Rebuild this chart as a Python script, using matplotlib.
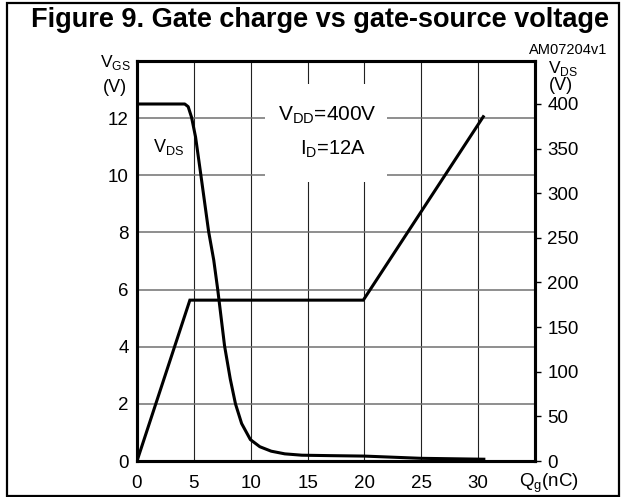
import matplotlib
matplotlib.use("Agg")
import matplotlib.pyplot as plt
import matplotlib.transforms as mtransforms
from matplotlib.patches import Rectangle

plt.rcParams['font.family'] = ['Liberation Sans', 'DejaVu Sans']

# gate charge (nC) vs VGS (V), left axis
qg_vgs = [0, 4.65, 19.9, 30.45]
vgs = [0, 5.63, 5.63, 12.05]

# gate charge (nC) vs VDS (V), right axis
qg_vds = [0, 4.2, 4.5, 4.8, 5.15, 5.6, 6.3, 6.75, 7.1, 7.7, 8.2, 8.66,
          9.2, 9.97, 10.8, 11.8, 13, 14.5, 17, 20, 25, 30.5]
vds = [400, 400, 397, 385, 363, 322, 257, 225, 192, 129, 92, 64,
       42, 24, 16, 11, 8, 6.5, 6, 5.5, 3, 2]

x_ticks = [0, 5, 10, 15, 20, 25, 30]
vgs_ticks = [0, 2, 4, 6, 8, 10, 12]
vds_ticks = [0, 50, 100, 150, 200, 250, 300, 350, 400]

W, H = 624, 497
fig = plt.figure(figsize=(W / 100, H / 100), dpi=100)

def fx(px):
    return px / W

def fy(py):
    return 1 - py / H

# outer frame
fig.patches.append(Rectangle((fx(7), fy(496)), fx(612), 493 / H, transform=fig.transFigure,
                             fill=False, lw=1.6, ec='black'))

fig.text(fx(320), fy(20), 'Figure 9. Gate charge vs gate-source voltage',
         ha='center', va='center', fontsize=19.5, fontweight='bold')

ax = fig.add_axes([fx(137), fy(461), fx(535 - 137), (461 - 61) / H])
ax.set_xlim(0, 35)
ax.set_ylim(0, 14)
ax.set_xticks(x_ticks)
ax.set_yticks(vgs_ticks)
ax.tick_params(axis='both', length=0, labelsize=13.5)
ax.tick_params(axis='x', pad=10)
ax.tick_params(axis='y', pad=6)
ax.set_axisbelow(True)
ax.xaxis.grid(True, color='#222222', lw=0.8)
ax.yaxis.grid(True, color='#707070', lw=1.1)
for s in ax.spines.values():
    s.set_linewidth(2.2)

# white box behind the test conditions
ax.add_patch(Rectangle((11.3, 9.77), 10.7, 3.43, facecolor='white', edgecolor='none', zorder=1))
ax.text(16.7, 12.1, r'V$_{\mathregular{DD}}$=400V', ha='center', va='center', fontsize=15, zorder=3)
ax.text(17.25, 10.9, r'I$_{\mathregular{D}}$=12A', ha='center', va='center', fontsize=14.5, zorder=3)
ax.text(2.74, 11.0, r'V$_{\mathregular{DS}}$', ha='center', va='center', fontsize=13, zorder=3)

ax.plot(qg_vgs, vgs, color='black', lw=2.2, zorder=2, solid_joinstyle='miter')

ax2 = ax.twinx()
ax2.set_ylim(0, 400 * 400 / 357)
ax2.set_yticks(vds_ticks)
ax2.tick_params(axis='y', direction='out', length=4, width=1, labelsize=13.5, pad=5)
for s in ax2.spines.values():
    s.set_linewidth(2.2)
ax2.plot(qg_vds, vds, color='black', lw=2.2)

trans = mtransforms.blended_transform_factory(ax.transData, ax.transAxes)
ax.text(36.2, -0.065, r'Q$_{\mathregular{g}}$(nC)', transform=trans, ha='center', va='baseline',
        fontsize=13.5, clip_on=False)

fig.text(fx(115), fy(62), r'V$_{\mathregular{GS}}$', ha='center', va='center', fontsize=12.5)
fig.text(fx(115), fy(87), '(V)', ha='center', va='center', fontsize=13)
fig.text(fx(563), fy(68), r'V$_{\mathregular{DS}}$', ha='center', va='center', fontsize=12.5)
fig.text(fx(561), fy(85), '(V)', ha='center', va='center', fontsize=13)
fig.text(fx(568), fy(50), 'AM07204v1', ha='center', va='center', fontsize=10.5)

fig.savefig('out.png', dpi=100)
